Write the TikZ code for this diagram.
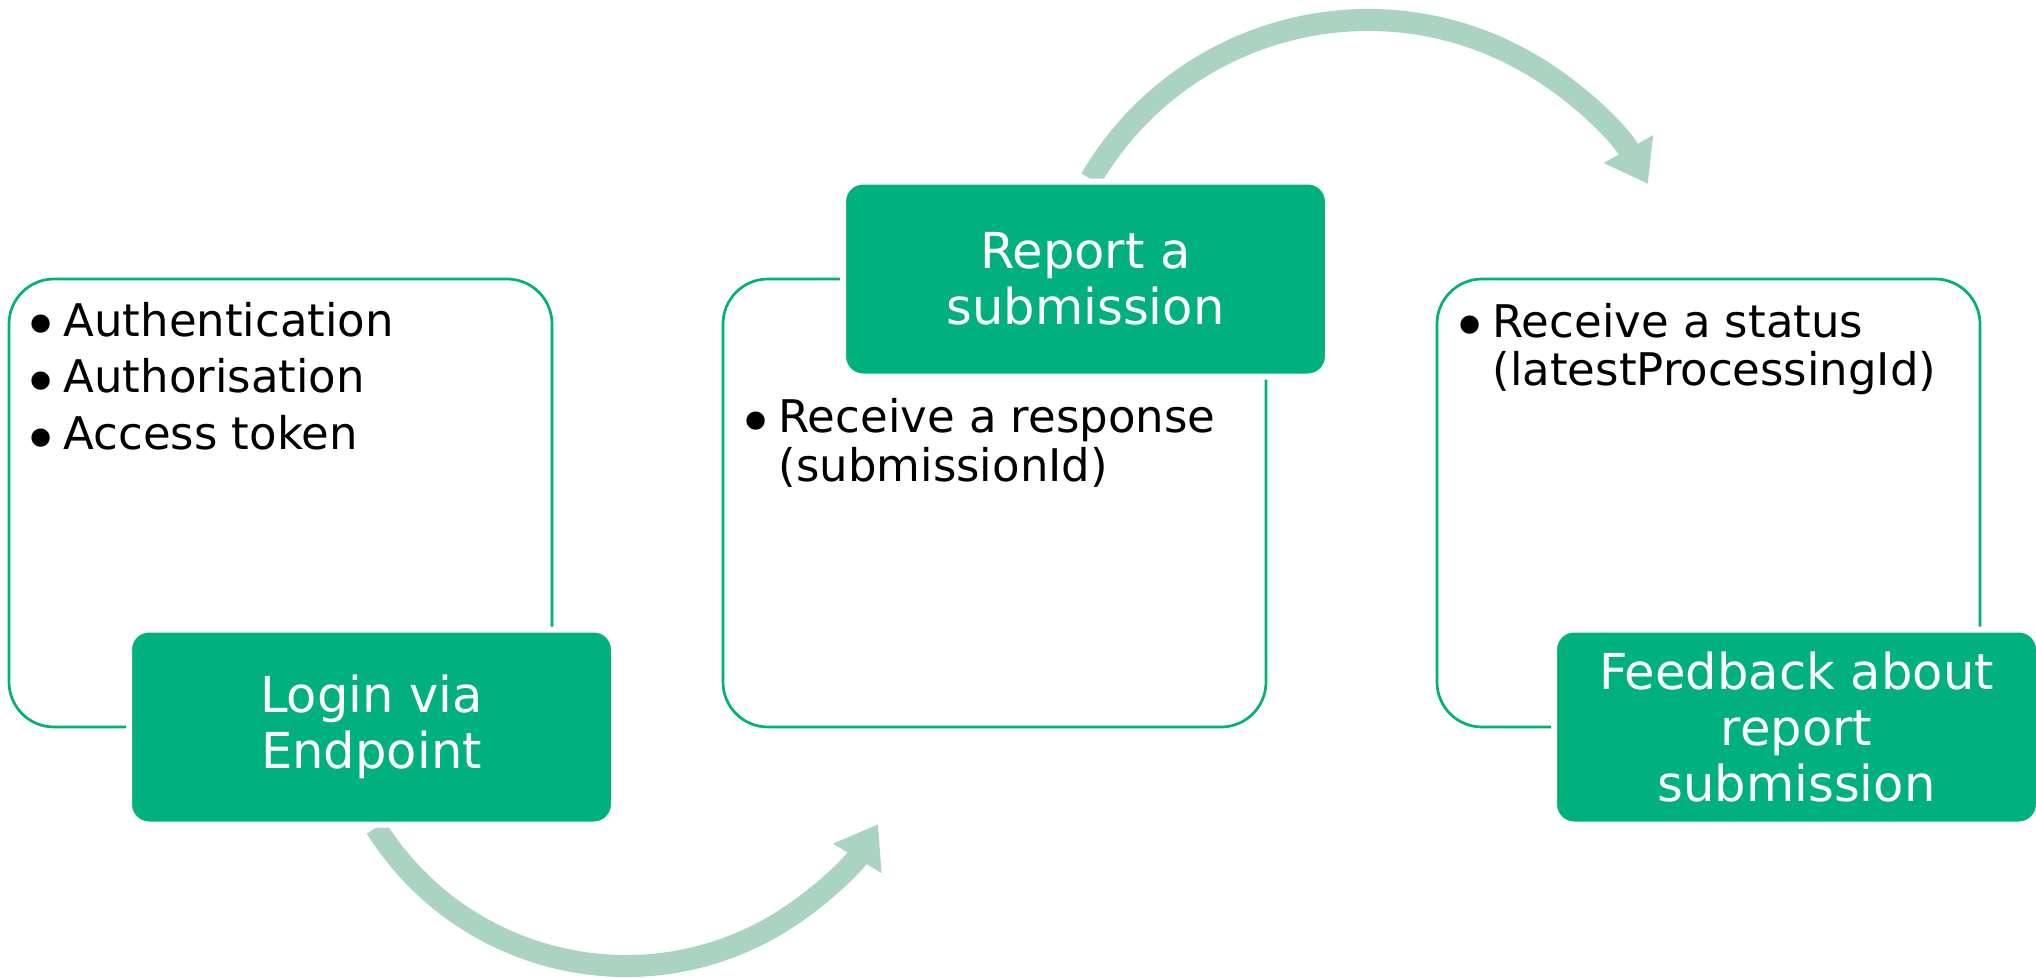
\documentclass[tikz,border=0pt]{standalone}
\usepackage{fontspec}
\usepackage{graphicx}
\setmainfont{DejaVu Sans}
\usetikzlibrary{positioning,arrows.meta}
\definecolor{stepgreen}{RGB}{0,176,125}
\definecolor{arcgreen}{RGB}{170,212,193}
\newcommand{\bpt}{\makebox[3.3mm][l]{\hspace*{-0.85mm}\raisebox{-3.4pt}{\scalebox{1.4}{\textbullet}}}}
\newcommand{\bgap}{\hspace*{3.3mm}}

\begin{document}
\begin{tikzpicture}[x=0.1mm,y=0.1mm,
    panel/.style={draw=stepgreen,fill=white,line width=0.27mm,rounded corners=4.5mm,
        minimum width=54.3mm,minimum height=44.8mm,inner sep=0pt,outer sep=0pt},
    stepbox/.style={fill=stepgreen,draw=white,line width=0.6mm,rounded corners=2mm,
        minimum width=48.5mm,minimum height=19.5mm,inner sep=0pt,outer sep=0pt,
        text=white,align=center,font=\fontsize{14.1}{16}\selectfont},
    notes/.style={anchor=base west,inner sep=0pt,font=\fontsize{12.8}{13.9}\selectfont},
    band/.style={draw=arcgreen,line width=2.2mm,-{Triangle[width=5.4mm,length=4mm]}}]
    \useasboundingbox[fill=white] (0,0) rectangle (2036,977);

    % outlined panels
    \node [panel] (auth) at (280.5,474) {};
    \node [panel,right=17.1mm of auth] (report) {};
    \node [panel,right=17.1mm of report] (status) {};

    % curved arrows between the steps
    \coordinate (lowloop) at (626,306);
    \coordinate (highloop) at (1368,636);
    \draw [band] ([shift={(212.1:295)}]lowloop) arc [start angle=212.1,end angle=328.7,radius=295];
    \draw [band] ([shift={(149.7:321)}]highloop) arc [start angle=149.7,end angle=29.3,radius=321];

    % step titles
    \node [stepbox] (login) at ([xshift=9.1mm]auth.south) {Login via\\Endpoint};
    \node [stepbox] (submit) at ([xshift=9.1mm]report.north) {Report a\\submission};
    \node [stepbox] (feedback) at ([xshift=8.8mm]status.south) {Feedback about\\report\\submission};

    % bullet texts
    \node [notes] (authlist) at ([shift={(21,-57)}]auth.north west)
        {\begin{tabular}[t]{@{}l@{}}\bpt Authentication\\[2.3pt]\bpt Authorisation\\[2.3pt]\bpt Access token\end{tabular}};
    \node [notes] (reportlist) at ([shift={(22,-153.5)}]report.north west)
        {\begin{tabular}[t]{@{}l@{}}\bpt Receive a response\\\bgap(submissionId)\end{tabular}};
    \node [notes] (statuslist) at ([shift={(22,-58)}]status.north west)
        {\begin{tabular}[t]{@{}l@{}}\bpt Receive a status\\\bgap(latestProcessingId)\end{tabular}};
\end{tikzpicture}
\end{document}
